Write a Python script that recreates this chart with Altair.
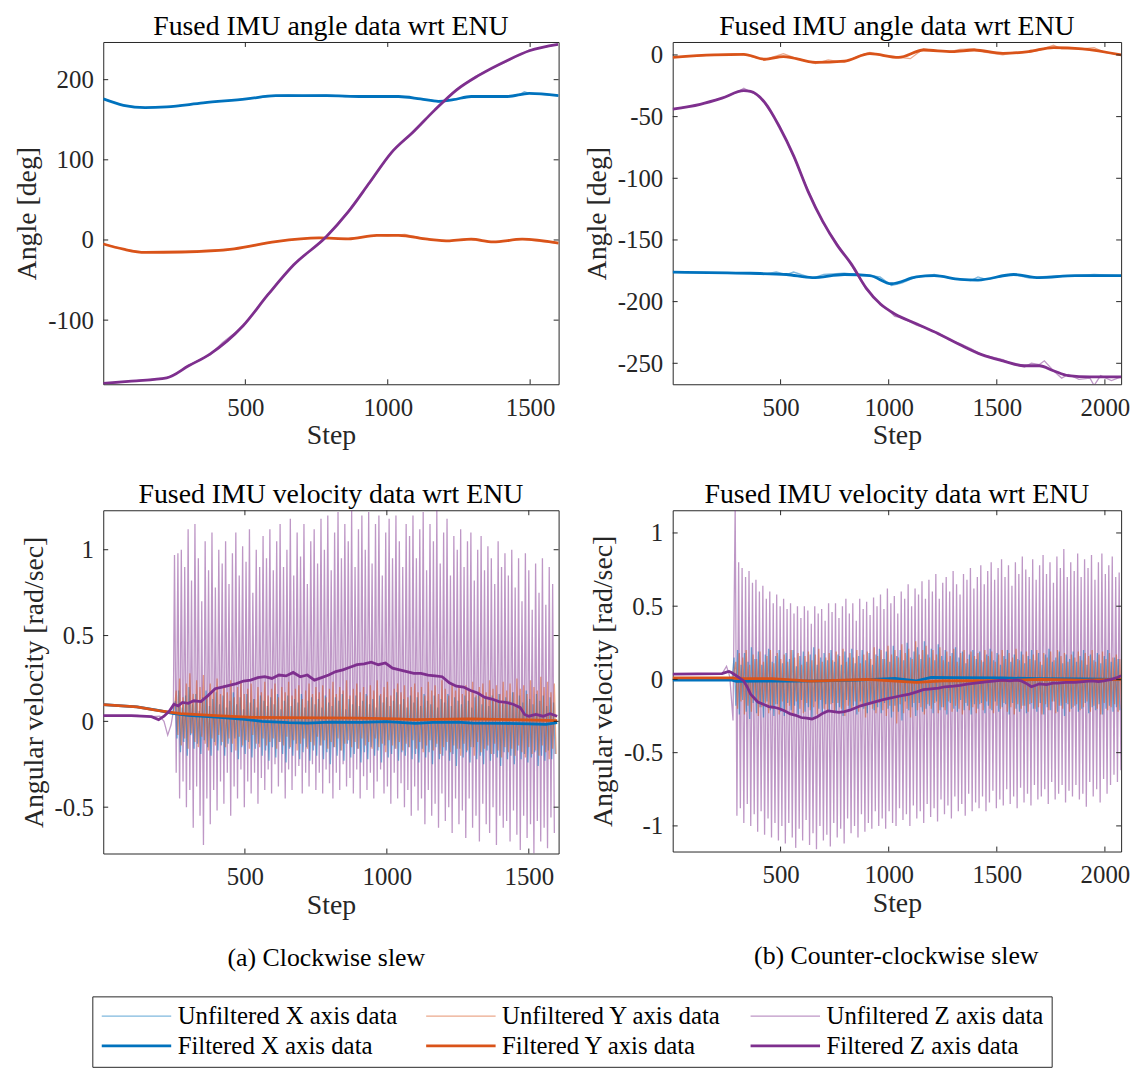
import altair as alt
import pandas as pd

FONT = "Liberation Serif"
TXT = "#262626"

SERIES = ["Unfiltered X axis data", "Unfiltered Y axis data", "Unfiltered Z axis data",
          "Filtered X axis data", "Filtered Y axis data", "Filtered Z axis data"]
COLORS = ["#0072BD", "#D95319", "#7E2F8E", "#0072BD", "#D95319", "#7E2F8E"]
WIDTHS = [1.3, 1.3, 1.3, 2.8, 2.8, 2.8]
OPAC = [0.5, 0.5, 0.5, 1, 1, 1]

# ---------------- (a) angle ----------------
tl_xf_s = [1, 72, 148, 224, 352, 504, 607, 784, 912, 1038, 1115, 1178, 1230, 1293, 1420, 1497, 1600]
tl_xf_v = [176, 168, 165, 166, 171, 176, 180, 180, 179, 179, 176, 173, 175, 179, 179, 183, 180]
tl_yf_s = [1, 72, 148, 276, 461, 607, 759, 861, 962, 1038, 1140, 1217, 1293, 1370, 1472, 1600]
tl_yf_v = [-5, -11.5, -15.5, -15, -11, -2, 2.5, 1.5, 5.8, 5.8, 1, -1, 1, -2.5, 1, -4]
tl_zf_s = [1, 100, 224, 301, 377, 492, 580, 670, 784, 861, 937, 1013, 1090, 1165, 1241, 1318, 1420, 1497, 1598]
tl_zf_v = [-179, -176, -172, -157, -142, -107, -68, -31, 4, 35, 72, 109, 135, 162, 187, 205, 224, 236, 244]

tl_xr_s = [1, 72, 148, 224, 352, 504, 560, 607, 650, 700, 784, 850, 912, 1038, 1115, 1160, 1178, 1200, 1230, 1293, 1420, 1460, 1480, 1497, 1520, 1600]
tl_xr_v = [176, 168, 165, 166, 171, 176, 178, 180, 181, 180, 181, 179, 180, 179, 176, 174, 172, 173, 175, 179, 179, 181, 185, 183, 182, 180]
tl_yr_s = [1, 72, 148, 276, 350, 461, 607, 680, 759, 861, 962, 1000, 1038, 1060, 1100, 1140, 1217, 1270, 1293, 1370, 1472, 1540, 1600]
tl_yr_v = [-5, -11.5, -15.5, -15, -13, -11, -2, 1, 3, 1.5, 6, 5, 6.5, 7, 4, 1, -1, 1.5, 0, -3, 1, -2, -4]
tl_zr_s = [1, 100, 224, 260, 301, 377, 420, 492, 580, 670, 784, 861, 937, 1013, 1090, 1165, 1241, 1318, 1420, 1497, 1598]
tl_zr_v = [-180, -176, -172, -166, -156, -143, -128, -108, -67, -31, 4, 36, 71, 110, 134, 163, 188, 206, 223, 237, 244]

# ---------------- (b) angle ----------------
tr_xf_s = [1, 361, 527, 647, 794, 913, 1013, 1128, 1211, 1330, 1413, 1578, 1697, 1862, 2075]
tr_xf_v = [-176, -177, -178, -180.5, -178, -179, -185.5, -180, -179, -182, -182.5, -178, -180.5, -179, -179]
tr_yf_s = [1, 193, 330, 427, 513, 661, 794, 913, 1046, 1161, 1294, 1395, 1528, 1647, 1762, 1895, 2075]
tr_yf_v = [-2, 0, 0.5, -3.5, -1.3, -6, -5, 1, -2, 4, 2.7, 4, 1.3, 2.7, 6, 5, 0]
tr_zf_s = [1, 128, 229, 330, 361, 429, 494, 561, 628, 695, 761, 829, 896, 962, 1028, 1128, 1229, 1330, 1430, 1528, 1628, 1697, 1762, 1830, 1931, 2075]
tr_zf_v = [-44, -40, -35, -29, -29.5, -39, -58, -82, -111, -135, -154, -170, -189, -202, -210, -218, -226, -235, -243, -248, -252, -252, -256, -260, -261, -261]

tr_xr_s = [1, 361, 420, 480, 527, 560, 647, 700, 794, 913, 960, 1013, 1060, 1128, 1211, 1280, 1330, 1380, 1413, 1450, 1578, 1650, 1697, 1780, 1862, 1950, 2075]
tr_xr_v = [-176, -177, -178, -176, -178, -176, -181, -178, -177, -179, -180, -187, -185, -180, -178, -181, -182, -183, -180, -182, -178, -181, -180, -179, -179, -178, -179]
tr_yr_s = [1, 193, 290, 330, 427, 460, 513, 560, 661, 720, 794, 860, 913, 980, 1046, 1100, 1161, 1220, 1294, 1330, 1395, 1450, 1528, 1580, 1647, 1700, 1762, 1800, 1895, 1950, 2000, 2075]
tr_yr_v = [-2, 0, 1, 0, -4, -2, 1, -2, -7, -4, -6, -1, 2, -1, -2, -3, 5, 3, 3, 4.5, 5, 2, 0, 2, 2, 4, 8, 5, 5, 6, 2, 0]
tr_zr_s = [1, 128, 229, 300, 330, 361, 400, 429, 494, 561, 628, 695, 761, 829, 896, 930, 962, 1000, 1028, 1060, 1128, 1180, 1229, 1280, 1330, 1380, 1430, 1480, 1528, 1580, 1628, 1660, 1697, 1720, 1762, 1800, 1830, 1880, 1931, 1950, 1980, 2030, 2075]
tr_zr_v = [-44, -40, -35, -30, -27, -30, -33, -40, -57, -83, -110, -136, -153, -171, -190, -196, -203, -207, -212, -213, -219, -222, -225, -231, -234, -238, -243, -245, -247, -251, -253, -250, -251, -248, -256, -262, -259, -263, -262, -268, -260, -264, -261]

# ---------------- (a) velocity ----------------
bl_xf_s = [1, 120, 200, 245, 300, 399, 500, 560, 655, 720, 800, 909, 1000, 1100, 1163, 1250, 1300, 1418, 1500, 1560, 1600]
bl_xf_v = [0.097, 0.085, 0.062, 0.046, 0.035, 0.025, 0.012, 0.0, -0.008, -0.01, -0.004, -0.006, -0.002, -0.012, -0.006, -0.004, -0.01, -0.012, -0.014, -0.018, -0.008]
bl_yf_s = [1, 119, 196, 273, 399, 528, 650, 780, 900, 1035, 1100, 1290, 1450, 1600]
bl_yf_v = [0.097, 0.085, 0.062, 0.045, 0.033, 0.023, 0.022, 0.02, 0.019, 0.014, 0.01, 0.014, 0.01, 0.004]
bl_zf_s = [1, 100, 171, 196, 215, 234, 250, 265, 280, 300,
           320, 345, 370, 395, 420, 445, 470, 495, 520, 545,
           570, 595, 620, 645, 670, 695, 720, 745, 770, 795,
           820, 845, 870, 895, 920, 945, 970, 995, 1020, 1045,
           1070, 1095, 1120, 1145, 1170, 1195, 1220, 1245, 1270, 1295,
           1320, 1345, 1370, 1395, 1420, 1445, 1470,
           1485, 1500, 1525, 1550, 1575, 1600]
bl_zf_v = [0.033, 0.033, 0.027, 0.01, 0.03, 0.06, 0.1, 0.09, 0.11, 0.105,
           0.12, 0.115, 0.15, 0.19, 0.2, 0.21, 0.22, 0.235, 0.24, 0.255,
           0.26, 0.25, 0.27, 0.265, 0.285, 0.26, 0.27, 0.24, 0.255, 0.27,
           0.29, 0.3, 0.315, 0.33, 0.335, 0.345, 0.33, 0.34, 0.31, 0.3,
           0.29, 0.28, 0.28, 0.27, 0.265, 0.26, 0.225, 0.205, 0.2, 0.18,
           0.165, 0.14, 0.13, 0.115, 0.11, 0.1, 0.08,
           0.04, 0.03, 0.04, 0.03, 0.045, 0.03]

bl_zr_pre_s = [1, 60, 120, 170, 200, 215, 228, 240, 248]
bl_zr_pre_v = [0.033, 0.03, 0.035, 0.027, 0.03, 0.0, -0.08, -0.02, 0.06]
bl_zr_hi = [0.97, 0.98, 1.0, 0.9, 1.12, 0.82, 1.15, 0.95, 0.7, 1.05, 0.88, 1.1, 0.78, 1.0,
            0.92, 1.05, 0.8, 0.98, 1.1, 0.85, 1.02, 0.93, 1.12, 0.75, 1.0, 0.9, 1.08, 0.95,
            1.12, 0.88, 1.05, 1.15, 0.9, 1.0, 1.18, 0.85, 1.1, 0.96, 1.15, 0.8, 1.05, 1.12,
            0.92, 1.18, 1.0, 1.2, 0.88, 1.1, 1.22, 0.95, 1.15, 1.05, 1.23, 0.9, 1.12, 1.2,
            1.0, 1.22, 0.92, 1.15, 1.2, 0.85, 1.1, 1.18, 0.95, 1.2, 1.05, 0.9, 1.15, 1.08,
            1.2, 0.95, 1.12, 1.22, 0.88, 1.15, 1.05, 1.23, 0.92, 1.1, 1.18, 0.85, 1.08, 1.0,
            1.12, 0.9, 1.05, 1.1, 0.82, 1.0, 1.08, 0.88, 1.02, 0.95, 0.8, 1.05, 0.9, 0.98,
            0.85, 1.0, 0.78, 0.95, 0.7, 0.98, 0.88, 0.65, 0.92, 0.75, 0.95, 0.68, 0.9, 0.8]
bl_zr_lo = [-0.3, -0.45, -0.35, -0.5, -0.4, -0.62, -0.38, -0.55, -0.72, -0.45, -0.6, -0.4, -0.52, -0.35,
            -0.48, -0.3, -0.55, -0.38, -0.45, -0.28, -0.5, -0.35, -0.42, -0.3, -0.48, -0.33, -0.4, -0.28,
            -0.42, -0.25, -0.38, -0.3, -0.45, -0.28, -0.4, -0.32, -0.26, -0.42, -0.3, -0.38, -0.25, -0.4,
            -0.3, -0.42, -0.28, -0.36, -0.45, -0.3, -0.4, -0.25, -0.38, -0.33, -0.42, -0.28, -0.45, -0.32,
            -0.4, -0.3, -0.45, -0.35, -0.28, -0.42, -0.38, -0.48, -0.3, -0.45, -0.36, -0.5, -0.4, -0.55,
            -0.38, -0.52, -0.45, -0.6, -0.4, -0.55, -0.48, -0.62, -0.42, -0.58, -0.5, -0.65, -0.45, -0.6,
            -0.52, -0.68, -0.45, -0.62, -0.55, -0.7, -0.48, -0.6, -0.65, -0.5, -0.72, -0.55, -0.62, -0.58,
            -0.7, -0.52, -0.66, -0.75, -0.55, -0.68, -0.6, -0.77, -0.58, -0.7, -0.62, -0.74, -0.56, -0.65]
bl_xr_pre_s = [1, 120, 200, 245]
bl_xr_pre_v = [0.097, 0.085, 0.062, 0.046]
bl_xr_hi = [0.12, 0.18, 0.08, 0.15, 0.2, 0.1, 0.16, 0.06, 0.14, 0.18, 0.09, 0.13, 0.17, 0.1,
            0.15, 0.08, 0.12, 0.17, 0.1, 0.14, 0.07, 0.16, 0.11, 0.13, 0.08, 0.15, 0.12, 0.09,
            0.14, 0.1, 0.16, 0.07, 0.12, 0.15, 0.09, 0.13, 0.11, 0.16, 0.08, 0.12, 0.14, 0.1,
            0.13, 0.08, 0.15, 0.11, 0.09, 0.14, 0.12, 0.16, 0.07, 0.13, 0.1, 0.15, 0.09, 0.12,
            0.16, 0.1, 0.13, 0.08, 0.15, 0.11, 0.14, 0.09, 0.12, 0.17, 0.1, 0.13, 0.08, 0.15,
            0.11, 0.14, 0.09, 0.16, 0.12, 0.1, 0.15, 0.08, 0.13, 0.11, 0.16, 0.09, 0.14, 0.12,
            0.1, 0.15, 0.12, 0.08, 0.14, 0.17, 0.1, 0.13, 0.09, 0.15, 0.12, 0.16, 0.1, 0.14,
            0.12, 0.17, 0.09, 0.15, 0.11, 0.18, 0.13, 0.1, 0.16, 0.12, 0.15, 0.09, 0.14, 0.11]
bl_xr_lo = [-0.1, -0.18, -0.12, -0.2, -0.08, -0.16, -0.13, -0.19, -0.11, -0.15, -0.2, -0.12, -0.17, -0.14,
            -0.2, -0.13, -0.18, -0.1, -0.22, -0.15, -0.19, -0.12, -0.21, -0.16, -0.13, -0.2, -0.17, -0.23,
            -0.15, -0.21, -0.12, -0.19, -0.24, -0.16, -0.2, -0.13, -0.22, -0.18, -0.15, -0.23, -0.17, -0.2,
            -0.14, -0.22, -0.18, -0.25, -0.15, -0.2, -0.17, -0.23, -0.13, -0.21, -0.19, -0.16, -0.24, -0.18,
            -0.22, -0.15, -0.2, -0.17, -0.24, -0.14, -0.21, -0.19, -0.16, -0.23, -0.18, -0.2, -0.15, -0.22,
            -0.19, -0.24, -0.16, -0.21, -0.18, -0.25, -0.15, -0.22, -0.2, -0.17, -0.23, -0.19, -0.26, -0.16,
            -0.21, -0.18, -0.24, -0.15, -0.22, -0.2, -0.25, -0.17, -0.23, -0.19, -0.21, -0.26, -0.18, -0.22,
            -0.2, -0.25, -0.17, -0.22, -0.19, -0.24, -0.21, -0.18, -0.26, -0.2, -0.23, -0.17, -0.22, -0.19]
bl_yr_pre_s = [1, 119, 196, 250]
bl_yr_pre_v = [0.098, 0.086, 0.063, 0.044]
bl_yr_hi = [0.18, 0.25, 0.14, 0.22, 0.28, 0.16, 0.24, 0.2, 0.27, 0.15, 0.22, 0.18, 0.25, 0.16,
            0.21, 0.17, 0.24, 0.14, 0.2, 0.23, 0.16, 0.19, 0.22, 0.13, 0.2, 0.17, 0.23, 0.15,
            0.19, 0.22, 0.14, 0.2, 0.17, 0.23, 0.15, 0.19, 0.21, 0.13, 0.18, 0.22, 0.16, 0.2,
            0.17, 0.21, 0.14, 0.19, 0.23, 0.16, 0.2, 0.18, 0.24, 0.15, 0.19, 0.22, 0.17, 0.2,
            0.15, 0.21, 0.18, 0.24, 0.16, 0.2, 0.23, 0.15, 0.19, 0.22, 0.17, 0.21, 0.14, 0.2,
            0.22, 0.17, 0.2, 0.15, 0.23, 0.18, 0.21, 0.16, 0.24, 0.19, 0.15, 0.22, 0.18, 0.2,
            0.16, 0.21, 0.18, 0.23, 0.15, 0.2, 0.22, 0.17, 0.24, 0.19, 0.21, 0.16, 0.23, 0.18,
            0.22, 0.17, 0.25, 0.19, 0.21, 0.16, 0.24, 0.2, 0.18, 0.26, 0.2, 0.23, 0.17, 0.22]
bl_yr_lo = [-0.08, -0.14, -0.1, -0.16, -0.07, -0.12, -0.15, -0.09, -0.13, -0.17, -0.1, -0.14, -0.08, -0.12,
            -0.15, -0.1, -0.13, -0.17, -0.09, -0.14, -0.11, -0.16, -0.08, -0.13, -0.15, -0.1, -0.14, -0.12,
            -0.1, -0.16, -0.12, -0.14, -0.09, -0.15, -0.11, -0.17, -0.13, -0.1, -0.16, -0.12, -0.14, -0.09,
            -0.14, -0.11, -0.16, -0.12, -0.15, -0.1, -0.17, -0.13, -0.11, -0.15, -0.12, -0.16, -0.1, -0.14,
            -0.12, -0.16, -0.1, -0.15, -0.13, -0.18, -0.11, -0.14, -0.16, -0.12, -0.17, -0.13, -0.15, -0.11,
            -0.16, -0.12, -0.18, -0.14, -0.11, -0.17, -0.13, -0.19, -0.15, -0.12, -0.18, -0.14, -0.16, -0.2,
            -0.13, -0.17, -0.15, -0.2, -0.12, -0.18, -0.16, -0.14, -0.19, -0.13, -0.17, -0.21, -0.15, -0.18,
            -0.16, -0.2, -0.14, -0.18, -0.21, -0.15, -0.19, -0.17, -0.2, -0.14, -0.18, -0.22, -0.16, -0.19]

# ---------------- (b) velocity ----------------
br_xf_s = [1, 275, 295, 400, 550, 696, 850, 1029, 1128, 1196, 1300, 1528, 1700, 1900, 2075]
br_xf_v = [-0.005, -0.005, -0.013, -0.012, -0.012, -0.01, -0.004, 0.007, -0.01, 0.014, 0.012, 0.01, 0.005, 0.003, 0.0]
br_yf_s = [1, 275, 295, 460, 640, 900, 1128, 1250, 1500, 1700, 1900, 2075]
br_yf_v = [0.01, 0.01, 0.005, 0.005, -0.012, 0.0, -0.02, -0.01, -0.008, 0.0, -0.005, 0.0]
br_zf_s = [1, 229, 250, 261, 275, 295, 310, 329, 345, 361,
           380, 395, 420, 445, 470, 495, 520, 545, 570, 595,
           620, 645, 670, 696, 720, 745, 770, 795, 820, 845,
           870, 895, 920, 945, 970, 1000, 1030, 1060, 1096, 1130,
           1160, 1196, 1230, 1260, 1300, 1330, 1362, 1400, 1430, 1460,
           1495, 1530, 1560, 1590, 1614, 1640, 1660, 1680, 1697, 1730,
           1760, 1780, 1820, 1862, 1900, 1940, 1970, 1995, 2030, 2060,
           2075]
br_zf_v = [0.036, 0.04, 0.05, 0.054, 0.045, 0.025, 0.01, -0.01, -0.05, -0.1,
           -0.13, -0.155, -0.17, -0.185, -0.19, -0.2, -0.215, -0.235, -0.245, -0.26,
           -0.265, -0.27, -0.255, -0.23, -0.215, -0.22, -0.225, -0.22, -0.21, -0.195,
           -0.18, -0.17, -0.16, -0.15, -0.14, -0.13, -0.12, -0.11, -0.1, -0.085,
           -0.07, -0.065, -0.06, -0.05, -0.045, -0.04, -0.032, -0.025, -0.02, -0.015,
           -0.01, -0.005, -0.01, -0.005, -0.01, -0.03, -0.05, -0.04, -0.03, -0.035,
           -0.025, -0.025, -0.02, -0.02, -0.015, -0.01, -0.015, -0.01, 0.0, 0.015,
           0.025]

br_zr_pre_s = [1, 120, 230, 250, 265, 280]
br_zr_pre_v = [0.036, 0.036, 0.04, 0.09, 0.02, -0.28]
br_zr_hi = [1.2, 0.8, 0.76, 0.7, 0.74, 0.66, 0.68, 0.6, 0.64, 0.55, 0.6, 0.52, 0.58, 0.5,
            0.55, 0.48, 0.52, 0.45, 0.5, 0.42, 0.5, 0.47, 0.38, 0.5, 0.45, 0.48, 0.4, 0.52,
            0.46, 0.52, 0.42, 0.5, 0.55, 0.45, 0.52, 0.4, 0.55, 0.48, 0.53, 0.44, 0.56, 0.5,
            0.58, 0.48, 0.62, 0.52, 0.57, 0.45, 0.6, 0.55, 0.65, 0.5, 0.62, 0.58, 0.67, 0.55,
            0.68, 0.6, 0.72, 0.55, 0.66, 0.7, 0.6, 0.74, 0.65, 0.58, 0.72, 0.68, 0.76, 0.62,
            0.7, 0.78, 0.65, 0.74, 0.8, 0.68, 0.76, 0.82, 0.7, 0.78, 0.64, 0.8, 0.72, 0.84,
            0.75, 0.7, 0.82, 0.68, 0.78, 0.85, 0.72, 0.8, 0.66, 0.84, 0.76, 0.89, 0.7, 0.8,
            0.74, 0.86, 0.7, 0.82, 0.76, 0.85, 0.68, 0.8, 0.86, 0.72, 0.78, 0.84, 0.7, 0.73]
br_zr_lo = [-0.93, -0.88, -0.98, -0.85, -1.0, -0.92, -1.04, -0.9, -1.06, -0.95, -1.08, -0.98, -1.1, -1.0,
            -1.12, -0.98, -1.08, -1.15, -1.02, -1.1, -0.96, -1.13, -1.05, -1.16, -1.0, -1.1, -1.06, -1.14,
            -0.98, -1.08, -1.02, -1.12, -0.95, -1.05, -1.0, -1.08, -0.92, -1.04, -0.98, -1.02, -0.9, -1.0,
            -0.95, -1.02, -0.9, -0.98, -1.0, -0.88, -0.96, -0.92, -1.0, -0.86, -0.95, -0.9, -0.98, -0.85,
            -0.94, -0.88, -0.97, -0.82, -0.92, -0.86, -0.95, -0.8, -0.9, -0.85, -0.93, -0.78, -0.9, -0.84,
            -0.88, -0.8, -0.9, -0.84, -0.76, -0.88, -0.82, -0.86, -0.75, -0.85, -0.8, -0.88, -0.74, -0.84,
            -0.78, -0.86, -0.72, -0.82, -0.8, -0.75, -0.85, -0.7, -0.82, -0.78, -0.72, -0.84, -0.76, -0.8,
            -0.72, -0.82, -0.78, -0.87, -0.7, -0.8, -0.75, -0.84, -0.68, -0.78, -0.72, -0.65, -0.7, -0.62]
br_xr_pre_s = [1, 275]
br_xr_pre_v = [-0.005, -0.005]
br_xr_hi = [0.15, 0.2, 0.1, 0.18, 0.12, 0.22, 0.14, 0.19, 0.1, 0.17, 0.21, 0.12, 0.16, 0.2,
            0.11, 0.18, 0.14, 0.2, 0.09, 0.16, 0.19, 0.12, 0.17, 0.22, 0.1, 0.15, 0.18, 0.13,
            0.2, 0.12, 0.17, 0.1, 0.19, 0.15, 0.21, 0.11, 0.16, 0.2, 0.13, 0.18, 0.1, 0.17,
            0.21, 0.14, 0.19, 0.12, 0.23, 0.16, 0.2, 0.13, 0.25, 0.15, 0.19, 0.22, 0.14, 0.26,
            0.17, 0.21, 0.13, 0.24, 0.16, 0.2, 0.12, 0.18, 0.22, 0.15, 0.19, 0.11, 0.17, 0.2,
            0.14, 0.19, 0.12, 0.17, 0.21, 0.13, 0.18, 0.1, 0.16, 0.2, 0.12, 0.17, 0.14, 0.19,
            0.11, 0.16, 0.2, 0.13, 0.18, 0.1, 0.17, 0.21, 0.12, 0.15, 0.19, 0.11, 0.17, 0.14,
            0.19, 0.12, 0.16, 0.2, 0.1, 0.17, 0.13, 0.18, 0.11, 0.16, 0.2, 0.12, 0.15, 0.14]
br_xr_lo = [-0.18, -0.24, -0.14, -0.22, -0.27, -0.16, -0.23, -0.19, -0.26, -0.15, -0.21, -0.25, -0.17, -0.22,
            -0.25, -0.16, -0.21, -0.18, -0.24, -0.14, -0.22, -0.19, -0.26, -0.15, -0.2, -0.23, -0.17, -0.21,
            -0.16, -0.22, -0.19, -0.25, -0.14, -0.21, -0.18, -0.24, -0.15, -0.2, -0.23, -0.17, -0.21, -0.19,
            -0.23, -0.16, -0.2, -0.26, -0.18, -0.22, -0.28, -0.15, -0.21, -0.19, -0.25, -0.16, -0.22, -0.2,
            -0.18, -0.23, -0.15, -0.21, -0.19, -0.24, -0.16, -0.2, -0.22, -0.14, -0.21, -0.18, -0.24, -0.17,
            -0.2, -0.16, -0.23, -0.18, -0.21, -0.15, -0.22, -0.19, -0.17, -0.24, -0.16, -0.2, -0.22, -0.18,
            -0.23, -0.17, -0.2, -0.22, -0.16, -0.24, -0.19, -0.21, -0.15, -0.22, -0.18, -0.25, -0.17, -0.2,
            -0.18, -0.22, -0.2, -0.16, -0.23, -0.19, -0.21, -0.17, -0.24, -0.2, -0.18, -0.22, -0.19, -0.21]
br_yr_pre_s = [1, 280]
br_yr_pre_v = [0.01, 0.01]
br_yr_hi = [0.12, 0.18, 0.15, 0.2, 0.1, 0.17, 0.14, 0.19, 0.12, 0.16, 0.2, 0.11, 0.18, 0.14,
            0.17, 0.12, 0.2, 0.15, 0.18, 0.1, 0.16, 0.19, 0.13, 0.17, 0.21, 0.12, 0.15, 0.18,
            0.13, 0.19, 0.16, 0.21, 0.12, 0.18, 0.15, 0.2, 0.11, 0.17, 0.19, 0.14, 0.22, 0.16,
            0.2, 0.14, 0.23, 0.17, 0.2, 0.15, 0.24, 0.18, 0.21, 0.14, 0.26, 0.17, 0.2, 0.23,
            0.15, 0.2, 0.17, 0.22, 0.13, 0.19, 0.16, 0.21, 0.12, 0.18, 0.2, 0.14, 0.19, 0.16,
            0.18, 0.13, 0.2, 0.16, 0.19, 0.12, 0.17, 0.2, 0.14, 0.18, 0.15, 0.21, 0.13, 0.17,
            0.19, 0.14, 0.17, 0.2, 0.12, 0.18, 0.15, 0.19, 0.13, 0.2, 0.16, 0.18, 0.12, 0.17,
            0.15, 0.19, 0.13, 0.18, 0.16, 0.2, 0.12, 0.17, 0.19, 0.14, 0.18, 0.15, 0.17, 0.14]
br_yr_lo = [-0.2, -0.15, -0.24, -0.18, -0.22, -0.13, -0.25, -0.19, -0.16, -0.23, -0.2, -0.17, -0.24, -0.15,
            -0.21, -0.18, -0.25, -0.15, -0.2, -0.23, -0.16, -0.21, -0.19, -0.24, -0.14, -0.2, -0.22, -0.17,
            -0.23, -0.16, -0.2, -0.25, -0.18, -0.21, -0.15, -0.22, -0.19, -0.26, -0.17, -0.2, -0.23, -0.16,
            -0.21, -0.25, -0.18, -0.22, -0.3, -0.17, -0.23, -0.2, -0.26, -0.16, -0.21, -0.19, -0.24, -0.17,
            -0.2, -0.16, -0.23, -0.19, -0.21, -0.15, -0.22, -0.18, -0.2, -0.24, -0.16, -0.21, -0.19, -0.23,
            -0.17, -0.21, -0.15, -0.2, -0.23, -0.18, -0.2, -0.16, -0.22, -0.19, -0.24, -0.17, -0.2, -0.18,
            -0.22, -0.16, -0.2, -0.19, -0.24, -0.17, -0.21, -0.15, -0.23, -0.18, -0.2, -0.16, -0.22, -0.19,
            -0.17, -0.21, -0.19, -0.15, -0.22, -0.18, -0.2, -0.24, -0.16, -0.21, -0.19, -0.17, -0.22, -0.2]

TL_XTICKS = [500, 1000, 1500]
TR_XTICKS = [500, 1000, 1500, 2000]
TL_YTICKS = [-100, 0, 100, 200]
TR_YTICKS = [-250, -200, -150, -100, -50, 0]
BL_YTICKS = [-0.5, 0, 0.5, 1]
BR_YTICKS = [-1, -0.5, 0, 0.5, 1]


def frame(name, steps, vals):
    n = min(len(steps), len(vals))
    return pd.DataFrame({"step": list(steps)[:n], "value": list(vals)[:n], "series": name})


def spikes(pre_s, pre_v, hi, lo, start, period):
    s, v = list(pre_s), list(pre_v)
    for i, (a, b) in enumerate(zip(hi, lo)):
        s += [start + period * i, start + period * i + period // 2]
        v += [a, b]
    return s, v


def panel(title, ytitle, lines, xdom, ydom, xticks, yticks, w, h):
    xe = alt.X("step:Q", scale=alt.Scale(domain=xdom, nice=False, zero=False),
               axis=alt.Axis(values=xticks, title="Step", labelExpr="'' + datum.value"))
    ye = alt.Y("value:Q", scale=alt.Scale(domain=ydom, nice=False, zero=False),
               axis=alt.Axis(values=yticks, title=ytitle, labelExpr="'' + datum.value"))
    col = alt.Color("series:N", scale=alt.Scale(domain=SERIES, range=COLORS), title=None)
    sw = alt.StrokeWidth("series:N", scale=alt.Scale(type="ordinal", domain=SERIES, range=WIDTHS), title=None)
    op = alt.Opacity("series:N", scale=alt.Scale(type="ordinal", domain=SERIES, range=OPAC), title=None)
    layers = []
    for df, interp in lines:
        layers.append(alt.Chart(df).mark_line(clip=True, interpolate=interp)
                      .encode(x=xe, y=ye, color=col, strokeWidth=sw, opacity=op))
    xt = pd.DataFrame({"step": xticks})
    yt = pd.DataFrame({"value": yticks})
    tk = dict(color=TXT, strokeWidth=1)
    layers += [
        alt.Chart(xt).mark_rule(**tk).encode(x=xe, y=alt.value(h), y2=alt.value(h - 5)),
        alt.Chart(xt).mark_rule(**tk).encode(x=xe, y=alt.value(0), y2=alt.value(5)),
        alt.Chart(yt).mark_rule(**tk).encode(y=ye, x=alt.value(0), x2=alt.value(5)),
        alt.Chart(yt).mark_rule(**tk).encode(y=ye, x=alt.value(w), x2=alt.value(w - 5)),
    ]
    return alt.layer(*layers).properties(
        width=w, height=h,
        title=alt.TitleParams(title, font=FONT, fontSize=28, fontWeight="normal",
                              color="black", anchor="middle", offset=1))


tl = panel("Fused IMU angle data wrt ENU", "Angle [deg]", [
    (frame(SERIES[2], tl_zr_s, tl_zr_v), "linear"),
    (frame(SERIES[0], tl_xr_s, tl_xr_v), "linear"),
    (frame(SERIES[1], tl_yr_s, tl_yr_v), "linear"),
    (frame(SERIES[3], tl_xf_s, tl_xf_v), "monotone"),
    (frame(SERIES[4], tl_yf_s, tl_yf_v), "monotone"),
    (frame(SERIES[5], tl_zf_s, tl_zf_v), "monotone"),
], [1, 1600], [-180, 247], TL_XTICKS, TL_YTICKS, 459, 345)

tr = panel("Fused IMU angle data wrt ENU", "Angle [deg]", [
    (frame(SERIES[2], tr_zr_s, tr_zr_v), "linear"),
    (frame(SERIES[0], tr_xr_s, tr_xr_v), "linear"),
    (frame(SERIES[1], tr_yr_s, tr_yr_v), "linear"),
    (frame(SERIES[3], tr_xf_s, tr_xf_v), "monotone"),
    (frame(SERIES[4], tr_yf_s, tr_yf_v), "monotone"),
    (frame(SERIES[5], tr_zf_s, tr_zf_v), "monotone"),
], [1, 2075], [-267, 10.5], TR_XTICKS, TR_YTICKS, 452, 345)

bl = panel("Fused IMU velocity data wrt ENU", "Angular velocity [rad/sec]", [
    (frame(SERIES[2], *spikes(bl_zr_pre_s, bl_zr_pre_v, bl_zr_hi, bl_zr_lo, 252, 12)), "linear"),
    (frame(SERIES[0], *spikes(bl_xr_pre_s, bl_xr_pre_v, bl_xr_hi, bl_xr_lo, 255, 12)), "linear"),
    (frame(SERIES[1], *spikes(bl_yr_pre_s, bl_yr_pre_v, bl_yr_hi, bl_yr_lo, 258, 12)), "linear"),
    (frame(SERIES[3], bl_xf_s, bl_xf_v), "linear"),
    (frame(SERIES[4], bl_yf_s, bl_yf_v), "linear"),
    (frame(SERIES[5], bl_zf_s, bl_zf_v), "linear"),
], [1, 1605], [-0.77, 1.23], TL_XTICKS, BL_YTICKS, 459, 346)

br = panel("Fused IMU velocity data wrt ENU", "Angular velocity [rad/sec]", [
    (frame(SERIES[2], *spikes(br_zr_pre_s, br_zr_pre_v, br_zr_hi, br_zr_lo, 290, 16)), "linear"),
    (frame(SERIES[0], *spikes(br_xr_pre_s, br_xr_pre_v, br_xr_hi, br_xr_lo, 285, 16)), "linear"),
    (frame(SERIES[1], *spikes(br_yr_pre_s, br_yr_pre_v, br_yr_hi, br_yr_lo, 293, 16)), "linear"),
    (frame(SERIES[3], br_xf_s, br_xf_v), "linear"),
    (frame(SERIES[4], br_yf_s, br_yf_v), "linear"),
    (frame(SERIES[5], br_zf_s, br_zf_v), "linear"),
], [1, 2075], [-1.175, 1.155], TR_XTICKS, BR_YTICKS, 452, 344)

cap = dict(orient="bottom", font=FONT, fontSize=26, fontWeight="normal",
           color="black", anchor="middle", offset=26, dx=40)
col_a = alt.vconcat(tl, bl, spacing=30,
                    title=alt.TitleParams("(a) Clockwise slew", **cap)
                    ).resolve_scale(x="independent", y="independent")
col_b = alt.vconcat(tr, br, spacing=30,
                    title=alt.TitleParams("(b) Counter-clockwise slew", **cap)
                    ).resolve_scale(x="independent", y="independent")

chart = alt.hconcat(col_a, col_b, spacing=23).resolve_scale(
    x="independent", y="independent",
    color="shared", strokeWidth="shared", opacity="shared"
).properties(
    padding={"left": 5, "top": 0, "right": 5, "bottom": 5}
).configure_view(
    stroke=TXT, strokeWidth=1
).configure_axis(
    labelFont=FONT, titleFont=FONT, labelFontSize=25, titleFontSize=28,
    titleFontWeight="normal", labelColor=TXT, titleColor=TXT,
    domain=False, ticks=False, grid=False
).configure_axisX(
    labelPadding=11, titlePadding=2
).configure_axisY(
    labelPadding=10, titlePadding=6
).configure_legend(
    orient="none", legendX=-11, legendY=962, columns=3, direction="horizontal",
    symbolType="stroke", symbolSize=4900, clipHeight=24,
    labelFont=FONT, labelFontSize=25, labelColor="black", labelLimit=400,
    labelOffset=5, strokeColor=TXT, fillColor="white", padding=8,
    rowPadding=5, columnPadding=27, gridAlign="all"
)

chart.save("out.html", embed_options={"renderer": "svg", "actions": False})
